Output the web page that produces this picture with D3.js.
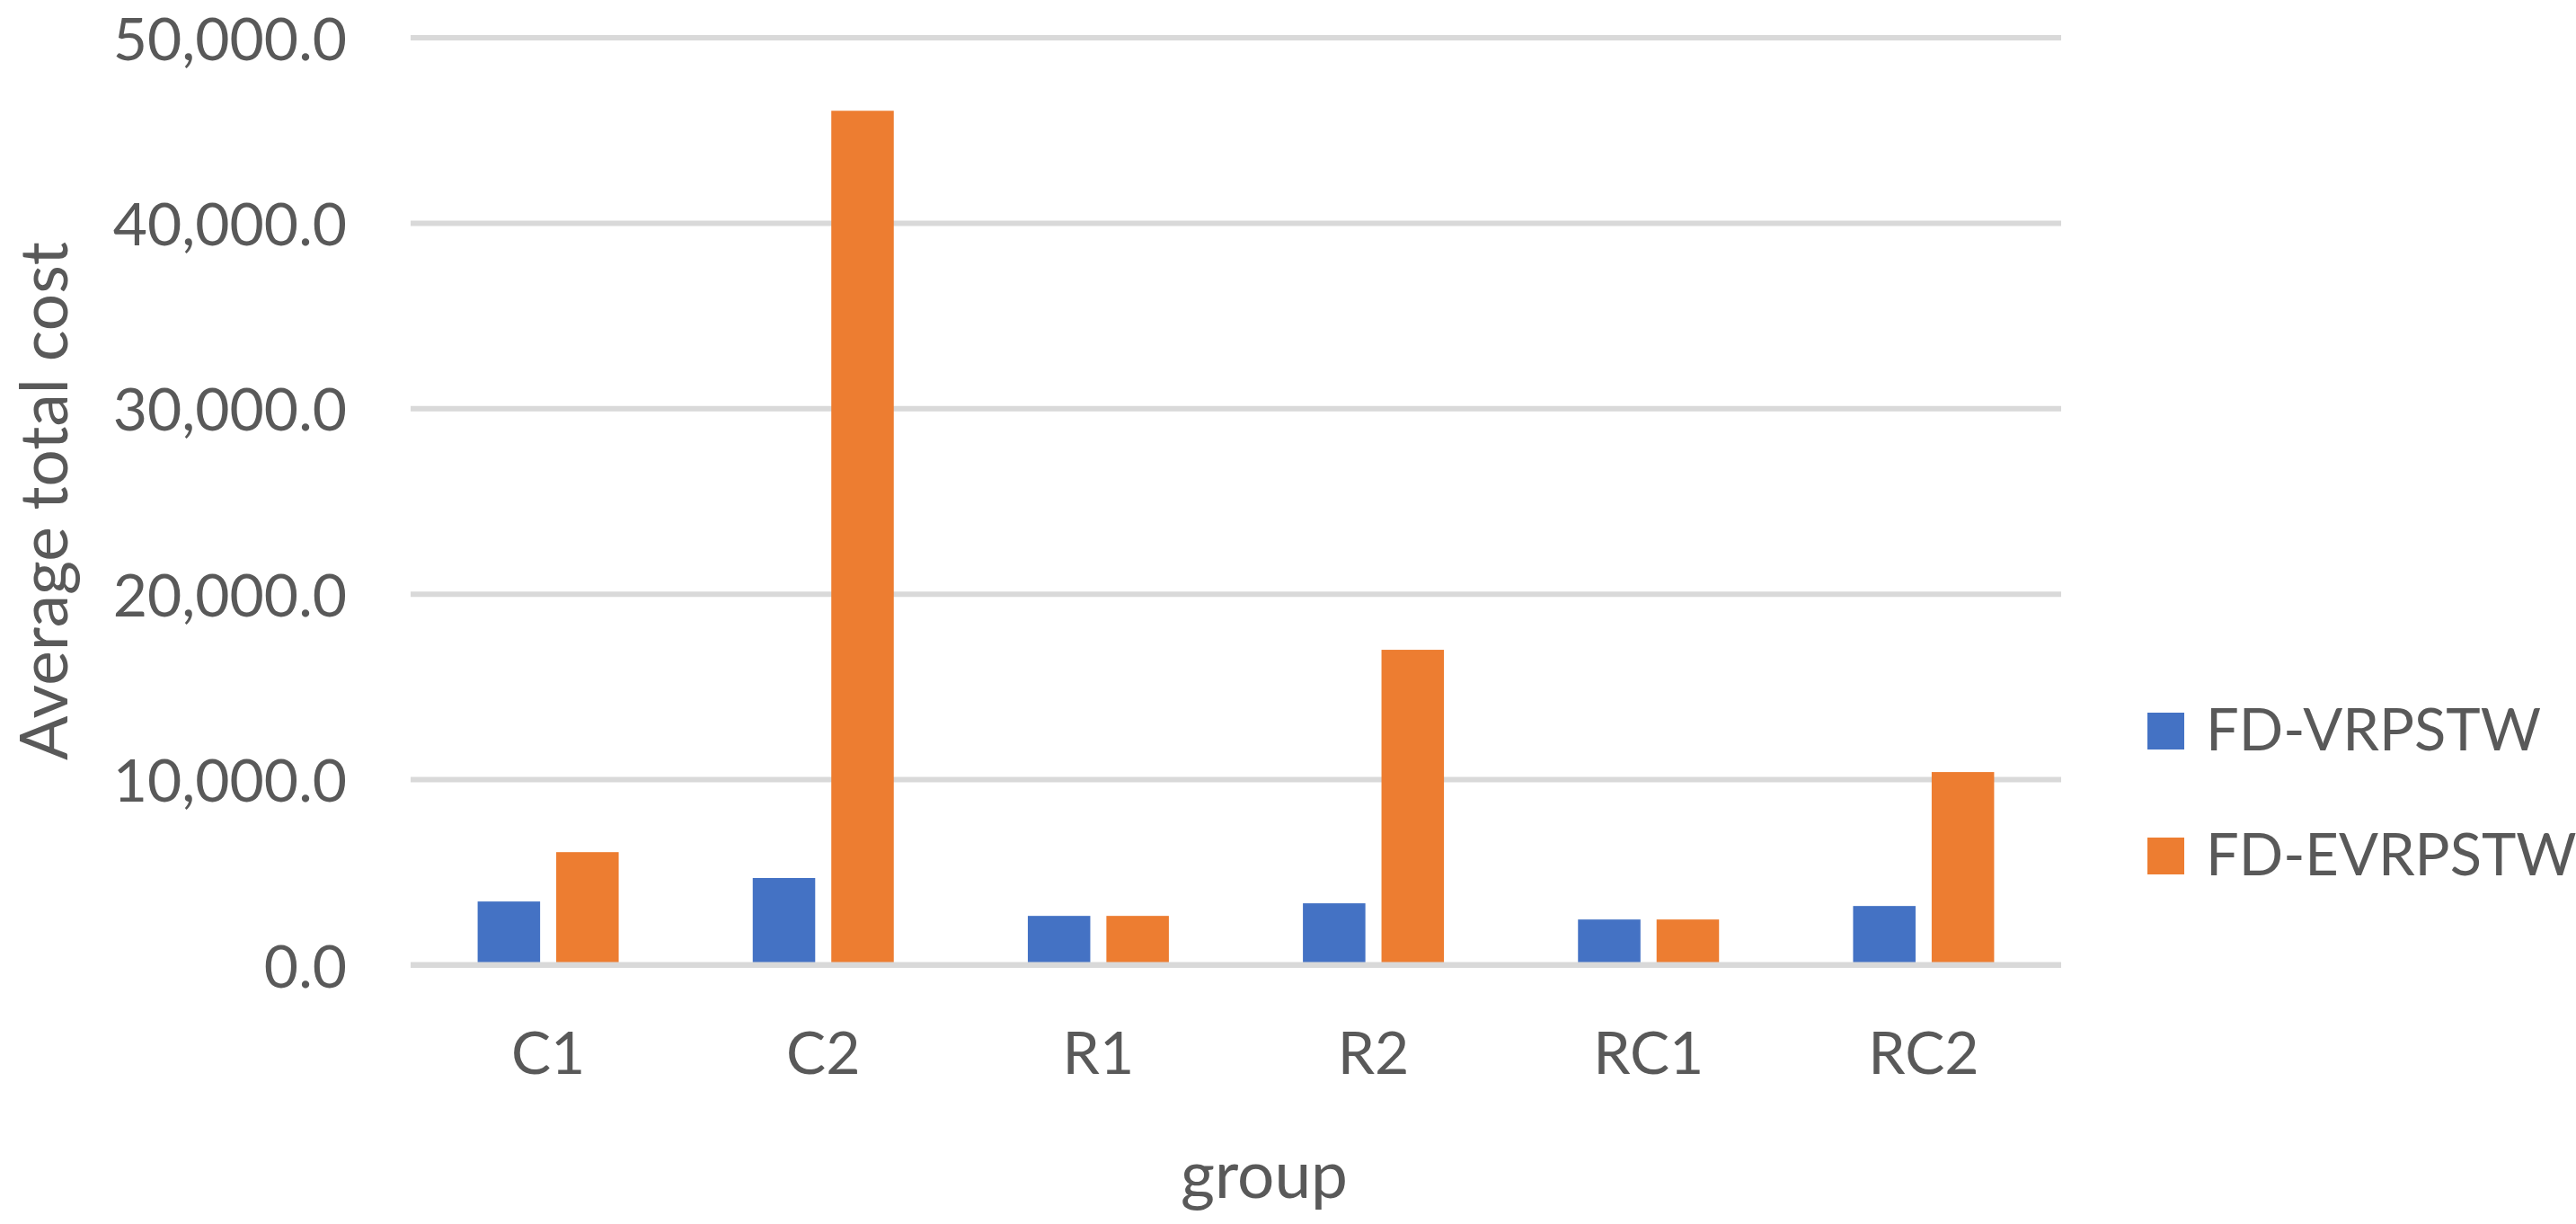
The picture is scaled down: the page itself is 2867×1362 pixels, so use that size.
<!DOCTYPE html>
<html>
<head>
<meta charset="utf-8">
<script src="https://cdn.jsdelivr.net/npm/d3@7"></script>
<style>
  html, body { margin: 0; padding: 0; background: #ffffff; }
  svg { display: block; }
  text { font-family: Lato, "Noto Sans", sans-serif; fill: #595959; }
</style>
</head>
<body>
<script>
// ---- data ----
const categories = ["C1", "C2", "R1", "R2", "RC1", "RC2"];
const seriesNames = ["FD-VRPSTW", "FD-EVRPSTW"];
const vrpstw = [3409, 4675, 2633, 3312, 2439, 3166];
const evrpstw = [6071, 46039, 2633, 16979, 2439, 10388];
const yTicks = [0, 10000, 20000, 30000, 40000, 50000];
const seriesColors = ["#4472C4", "#ED7D31"];
const yTitle = "Average total cost";
const xTitle = "group";

const W = 2867, H = 1362;
const plot = { left: 457, right: 2294, top: 41.5, bottom: 1073.5 };

const svg = d3.select("body").append("svg").attr("width", W).attr("height", H);

const x0 = d3.scaleBand().domain(categories).range([plot.left, plot.right]).paddingInner(0).paddingOuter(0);
const x1 = d3.scaleBand().domain(seriesNames).range([0, x0.bandwidth()]).paddingInner(0.205).paddingOuter(0.853);
const y = d3.scaleLinear().domain([0, 50000]).range([plot.bottom, plot.top]);

const fmt = d3.format(",.1f");

// gridlines + tick labels (below the bars)
const yAxis = d3.axisLeft(y).tickValues(yTicks).tickSize(-(plot.right - plot.left)).tickFormat(fmt).tickPadding(71);
const gy = svg.append("g").attr("transform", `translate(${plot.left},0)`).call(yAxis);
gy.select(".domain").remove();
gy.selectAll(".tick line").attr("stroke", "#D9D9D9").attr("stroke-width", 6);
gy.selectAll(".tick text").attr("font-size", 66).attr("fill", "#595959").attr("dy", "24.5px")
  .style("font-family", "Lato, 'Noto Sans', sans-serif");

// bars
const seriesData = [vrpstw, evrpstw];
const rows = [];
categories.forEach((c, i) => seriesNames.forEach((s, j) => rows.push({ c, s, v: seriesData[j][i], color: seriesColors[j] })));

svg.append("g").selectAll("rect").data(rows).join("rect")
  .attr("x", d => x0(d.c) + x1(d.s))
  .attr("width", x1.bandwidth())
  .attr("y", d => y(d.v))
  .attr("height", d => y(0) - y(d.v))
  .attr("fill", d => d.color);

// zero line drawn over the bar bottoms
svg.append("line")
  .attr("x1", plot.left).attr("x2", plot.right)
  .attr("y1", y(0)).attr("y2", y(0))
  .attr("stroke", "#D9D9D9").attr("stroke-width", 6);

// x axis labels
const xAxis = d3.axisBottom(x0).tickSize(0).tickPadding(0);
const gx = svg.append("g").attr("transform", `translate(0,${plot.bottom})`).call(xAxis);
gx.select(".domain").remove();
gx.selectAll(".tick text").attr("font-size", 66).attr("fill", "#595959").attr("dy", 0).attr("y", 121.5)
  .style("font-family", "Lato, 'Noto Sans', sans-serif");

// axis titles
svg.append("text").attr("transform", `translate(75,557.5) rotate(-90)`)
  .attr("text-anchor", "middle").attr("font-size", 73).text(yTitle);
svg.append("text").attr("x", 1407).attr("y", 1333)
  .attr("text-anchor", "middle").attr("font-size", 73).text(xTitle);

// legend
const lg = svg.append("g").selectAll("g").data(seriesNames).join("g")
  .attr("transform", (d, i) => `translate(2390,${793 + i * 139})`);
lg.append("rect").attr("width", 41).attr("height", 41).attr("fill", (d, i) => seriesColors[i]);
lg.append("text").attr("x", 65).attr("y", 42).attr("font-size", 65).text(d => d);
</script>
</body>
</html>
